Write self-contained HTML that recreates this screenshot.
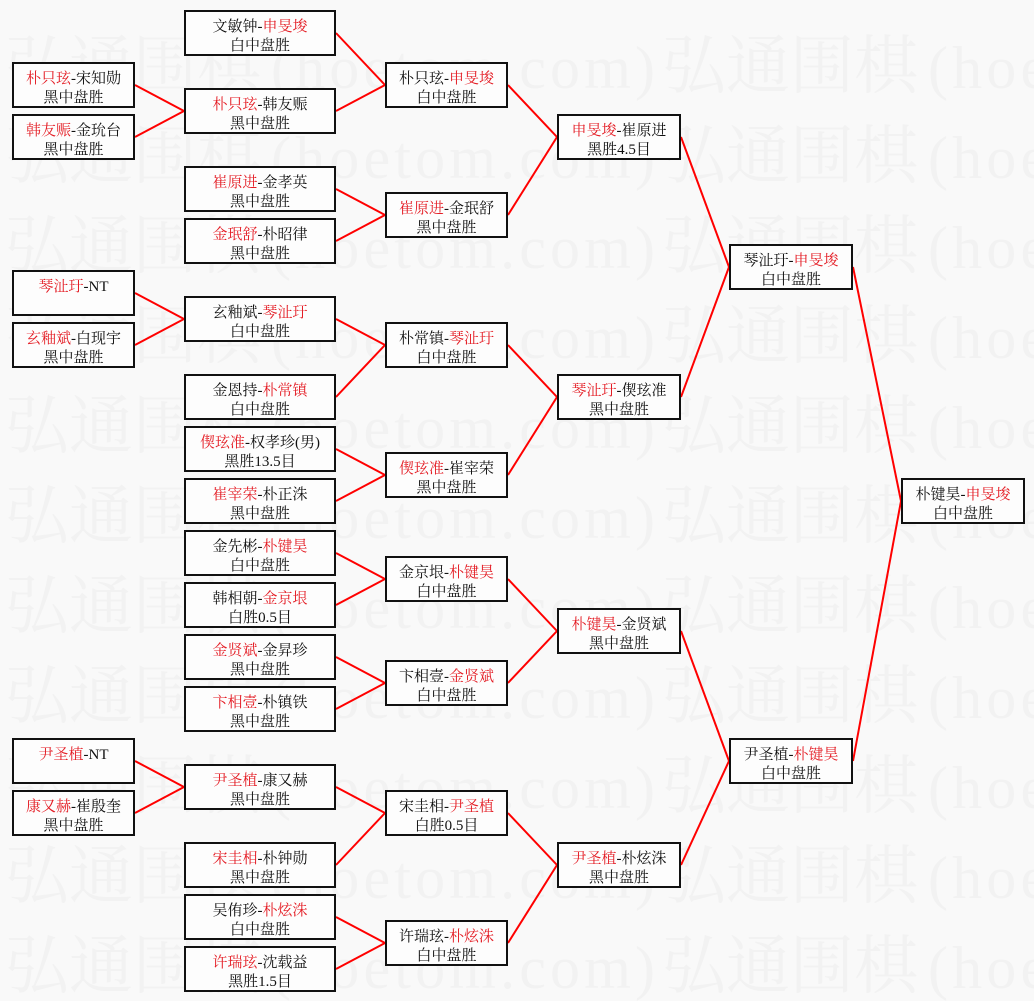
<!DOCTYPE html>
<html>
<head>
<meta charset="utf-8">
<style>
html,body{margin:0;padding:0;background:#f9f9f9;}
svg{display:block;}
.wm{font-family:"Liberation Serif","Noto Serif CJK SC",serif;font-size:64px;fill:#f2f2f2;}
.wl{font-family:"Liberation Serif","Noto Serif CJK SC",serif;font-size:60px;fill:#f2f2f2;}
.b{fill:#fdfdfd;stroke:#111;stroke-width:2;}
.t{font-family:"Liberation Serif","Noto Serif CJK SC",serif;font-size:15px;fill:#111;text-anchor:middle;}
.r{fill:#e41c24;}
.l{stroke:#f00;stroke-width:2;fill:none;}
</style>
</head>
<body>
<svg width="1034" height="1001" viewBox="0 0 1034 1001" xmlns="http://www.w3.org/2000/svg">
<rect width="1034" height="1001" fill="#f9f9f9"/>
<!-- watermark -->
<g>
<text class="wm" x="5" y="88">弘通围棋</text><text class="wl" x="271" y="88" textLength="384" lengthAdjust="spacing">(hoetom.com)</text><text class="wm" x="662" y="88">弘通围棋</text><text class="wl" x="928" y="88" textLength="384" lengthAdjust="spacing">(hoetom.com)</text>
<text class="wm" x="5" y="178">弘通围棋</text><text class="wl" x="271" y="178" textLength="384" lengthAdjust="spacing">(hoetom.com)</text><text class="wm" x="662" y="178">弘通围棋</text><text class="wl" x="928" y="178" textLength="384" lengthAdjust="spacing">(hoetom.com)</text>
<text class="wm" x="5" y="268">弘通围棋</text><text class="wl" x="271" y="268" textLength="384" lengthAdjust="spacing">(hoetom.com)</text><text class="wm" x="662" y="268">弘通围棋</text><text class="wl" x="928" y="268" textLength="384" lengthAdjust="spacing">(hoetom.com)</text>
<text class="wm" x="5" y="358">弘通围棋</text><text class="wl" x="271" y="358" textLength="384" lengthAdjust="spacing">(hoetom.com)</text><text class="wm" x="662" y="358">弘通围棋</text><text class="wl" x="928" y="358" textLength="384" lengthAdjust="spacing">(hoetom.com)</text>
<text class="wm" x="5" y="448">弘通围棋</text><text class="wl" x="271" y="448" textLength="384" lengthAdjust="spacing">(hoetom.com)</text><text class="wm" x="662" y="448">弘通围棋</text><text class="wl" x="928" y="448" textLength="384" lengthAdjust="spacing">(hoetom.com)</text>
<text class="wm" x="5" y="538">弘通围棋</text><text class="wl" x="271" y="538" textLength="384" lengthAdjust="spacing">(hoetom.com)</text><text class="wm" x="662" y="538">弘通围棋</text><text class="wl" x="928" y="538" textLength="384" lengthAdjust="spacing">(hoetom.com)</text>
<text class="wm" x="5" y="628">弘通围棋</text><text class="wl" x="271" y="628" textLength="384" lengthAdjust="spacing">(hoetom.com)</text><text class="wm" x="662" y="628">弘通围棋</text><text class="wl" x="928" y="628" textLength="384" lengthAdjust="spacing">(hoetom.com)</text>
<text class="wm" x="5" y="718">弘通围棋</text><text class="wl" x="271" y="718" textLength="384" lengthAdjust="spacing">(hoetom.com)</text><text class="wm" x="662" y="718">弘通围棋</text><text class="wl" x="928" y="718" textLength="384" lengthAdjust="spacing">(hoetom.com)</text>
<text class="wm" x="5" y="808">弘通围棋</text><text class="wl" x="271" y="808" textLength="384" lengthAdjust="spacing">(hoetom.com)</text><text class="wm" x="662" y="808">弘通围棋</text><text class="wl" x="928" y="808" textLength="384" lengthAdjust="spacing">(hoetom.com)</text>
<text class="wm" x="5" y="898">弘通围棋</text><text class="wl" x="271" y="898" textLength="384" lengthAdjust="spacing">(hoetom.com)</text><text class="wm" x="662" y="898">弘通围棋</text><text class="wl" x="928" y="898" textLength="384" lengthAdjust="spacing">(hoetom.com)</text>
<text class="wm" x="5" y="988">弘通围棋</text><text class="wl" x="271" y="988" textLength="384" lengthAdjust="spacing">(hoetom.com)</text><text class="wm" x="662" y="988">弘通围棋</text><text class="wl" x="928" y="988" textLength="384" lengthAdjust="spacing">(hoetom.com)</text>
</g>

<!-- connectors -->
<g class="l">
<line x1="135" y1="85" x2="184" y2="111"/><line x1="135" y1="137" x2="184" y2="111"/>
<line x1="135" y1="293" x2="184" y2="319"/><line x1="135" y1="345" x2="184" y2="319"/>
<line x1="135" y1="761" x2="184" y2="787"/><line x1="135" y1="813" x2="184" y2="787"/>

<line x1="336" y1="33" x2="385" y2="85"/><line x1="336" y1="111" x2="385" y2="85"/>
<line x1="336" y1="189" x2="385" y2="215"/><line x1="336" y1="241" x2="385" y2="215"/>
<line x1="336" y1="319" x2="385" y2="345"/><line x1="336" y1="397" x2="385" y2="345"/>
<line x1="336" y1="449" x2="385" y2="475"/><line x1="336" y1="501" x2="385" y2="475"/>
<line x1="336" y1="553" x2="385" y2="579"/><line x1="336" y1="605" x2="385" y2="579"/>
<line x1="336" y1="657" x2="385" y2="683"/><line x1="336" y1="709" x2="385" y2="683"/>
<line x1="336" y1="787" x2="385" y2="813"/><line x1="336" y1="865" x2="385" y2="813"/>
<line x1="336" y1="917" x2="385" y2="943"/><line x1="336" y1="969" x2="385" y2="943"/>

<line x1="508" y1="85" x2="557" y2="137"/><line x1="508" y1="215" x2="557" y2="137"/>
<line x1="508" y1="345" x2="557" y2="397"/><line x1="508" y1="475" x2="557" y2="397"/>
<line x1="508" y1="579" x2="557" y2="631"/><line x1="508" y1="683" x2="557" y2="631"/>
<line x1="508" y1="813" x2="557" y2="865"/><line x1="508" y1="943" x2="557" y2="865"/>

<line x1="681" y1="137" x2="729" y2="267"/><line x1="681" y1="397" x2="729" y2="267"/>
<line x1="681" y1="631" x2="729" y2="761"/><line x1="681" y1="865" x2="729" y2="761"/>

<line x1="853" y1="267" x2="901" y2="501"/><line x1="853" y1="761" x2="901" y2="501"/>
</g>

<!-- column 0 -->
<g>
<rect class="b" x="13" y="63" width="121" height="44"/>
<text class="t" x="73.5" y="83"><tspan class="r">朴只玹</tspan>-宋知勋</text><text class="t" x="73.5" y="102">黑中盘胜</text>
<rect class="b" x="13" y="115" width="121" height="44"/>
<text class="t" x="73.5" y="135"><tspan class="r">韩友赈</tspan>-金玧台</text><text class="t" x="73.5" y="154">黑中盘胜</text>
<rect class="b" x="13" y="271" width="121" height="44"/>
<text class="t" x="73.5" y="291"><tspan class="r">琴沚玗</tspan>-NT</text>
<rect class="b" x="13" y="323" width="121" height="44"/>
<text class="t" x="73.5" y="343"><tspan class="r">玄釉斌</tspan>-白现宇</text><text class="t" x="73.5" y="362">黑中盘胜</text>
<rect class="b" x="13" y="739" width="121" height="44"/>
<text class="t" x="73.5" y="759"><tspan class="r">尹圣植</tspan>-NT</text>
<rect class="b" x="13" y="791" width="121" height="44"/>
<text class="t" x="73.5" y="811"><tspan class="r">康又赫</tspan>-崔殷奎</text><text class="t" x="73.5" y="830">黑中盘胜</text>
</g>

<!-- column 1 -->
<g>
<rect class="b" x="185" y="11" width="150" height="44"/>
<text class="t" x="260" y="31">文敏钟-<tspan class="r">申旻埈</tspan></text><text class="t" x="260" y="50">白中盘胜</text>
<rect class="b" x="185" y="89" width="150" height="44"/>
<text class="t" x="260" y="109"><tspan class="r">朴只玹</tspan>-韩友赈</text><text class="t" x="260" y="128">黑中盘胜</text>
<rect class="b" x="185" y="167" width="150" height="44"/>
<text class="t" x="260" y="187"><tspan class="r">崔原进</tspan>-金孝英</text><text class="t" x="260" y="206">黑中盘胜</text>
<rect class="b" x="185" y="219" width="150" height="44"/>
<text class="t" x="260" y="239"><tspan class="r">金珉舒</tspan>-朴昭律</text><text class="t" x="260" y="258">黑中盘胜</text>
<rect class="b" x="185" y="297" width="150" height="44"/>
<text class="t" x="260" y="317">玄釉斌-<tspan class="r">琴沚玗</tspan></text><text class="t" x="260" y="336">白中盘胜</text>
<rect class="b" x="185" y="375" width="150" height="44"/>
<text class="t" x="260" y="395">金恩持-<tspan class="r">朴常镇</tspan></text><text class="t" x="260" y="414">白中盘胜</text>
<rect class="b" x="185" y="427" width="150" height="44"/>
<text class="t" x="260" y="447"><tspan class="r">偰玹准</tspan>-权孝珍(男)</text><text class="t" x="260" y="466">黑胜13.5目</text>
<rect class="b" x="185" y="479" width="150" height="44"/>
<text class="t" x="260" y="499"><tspan class="r">崔宰荣</tspan>-朴正洙</text><text class="t" x="260" y="518">黑中盘胜</text>
<rect class="b" x="185" y="531" width="150" height="44"/>
<text class="t" x="260" y="551">金先彬-<tspan class="r">朴键昊</tspan></text><text class="t" x="260" y="570">白中盘胜</text>
<rect class="b" x="185" y="583" width="150" height="44"/>
<text class="t" x="260" y="603">韩相朝-<tspan class="r">金京垠</tspan></text><text class="t" x="260" y="622">白胜0.5目</text>
<rect class="b" x="185" y="635" width="150" height="44"/>
<text class="t" x="260" y="655"><tspan class="r">金贤斌</tspan>-金昇珍</text><text class="t" x="260" y="674">黑中盘胜</text>
<rect class="b" x="185" y="687" width="150" height="44"/>
<text class="t" x="260" y="707"><tspan class="r">卞相壹</tspan>-朴镇铁</text><text class="t" x="260" y="726">黑中盘胜</text>
<rect class="b" x="185" y="765" width="150" height="44"/>
<text class="t" x="260" y="785"><tspan class="r">尹圣植</tspan>-康又赫</text><text class="t" x="260" y="804">黑中盘胜</text>
<rect class="b" x="185" y="843" width="150" height="44"/>
<text class="t" x="260" y="863"><tspan class="r">宋圭相</tspan>-朴钟勋</text><text class="t" x="260" y="882">黑中盘胜</text>
<rect class="b" x="185" y="895" width="150" height="44"/>
<text class="t" x="260" y="915">吴侑珍-<tspan class="r">朴炫洙</tspan></text><text class="t" x="260" y="934">白中盘胜</text>
<rect class="b" x="185" y="947" width="150" height="44"/>
<text class="t" x="260" y="967"><tspan class="r">许瑞玹</tspan>-沈载益</text><text class="t" x="260" y="986">黑胜1.5目</text>
</g>

<!-- column 2 -->
<g>
<rect class="b" x="386" y="63" width="121" height="44"/>
<text class="t" x="446.5" y="83">朴只玹-<tspan class="r">申旻埈</tspan></text><text class="t" x="446.5" y="102">白中盘胜</text>
<rect class="b" x="386" y="193" width="121" height="44"/>
<text class="t" x="446.5" y="213"><tspan class="r">崔原进</tspan>-金珉舒</text><text class="t" x="446.5" y="232">黑中盘胜</text>
<rect class="b" x="386" y="323" width="121" height="44"/>
<text class="t" x="446.5" y="343">朴常镇-<tspan class="r">琴沚玗</tspan></text><text class="t" x="446.5" y="362">白中盘胜</text>
<rect class="b" x="386" y="453" width="121" height="44"/>
<text class="t" x="446.5" y="473"><tspan class="r">偰玹准</tspan>-崔宰荣</text><text class="t" x="446.5" y="492">黑中盘胜</text>
<rect class="b" x="386" y="557" width="121" height="44"/>
<text class="t" x="446.5" y="577">金京垠-<tspan class="r">朴键昊</tspan></text><text class="t" x="446.5" y="596">白中盘胜</text>
<rect class="b" x="386" y="661" width="121" height="44"/>
<text class="t" x="446.5" y="681">卞相壹-<tspan class="r">金贤斌</tspan></text><text class="t" x="446.5" y="700">白中盘胜</text>
<rect class="b" x="386" y="791" width="121" height="44"/>
<text class="t" x="446.5" y="811">宋圭相-<tspan class="r">尹圣植</tspan></text><text class="t" x="446.5" y="830">白胜0.5目</text>
<rect class="b" x="386" y="921" width="121" height="44"/>
<text class="t" x="446.5" y="941">许瑞玹-<tspan class="r">朴炫洙</tspan></text><text class="t" x="446.5" y="960">白中盘胜</text>
</g>

<!-- column 3 -->
<g>
<rect class="b" x="558" y="115" width="122" height="44"/>
<text class="t" x="619" y="135"><tspan class="r">申旻埈</tspan>-崔原进</text><text class="t" x="619" y="154">黑胜4.5目</text>
<rect class="b" x="558" y="375" width="122" height="44"/>
<text class="t" x="619" y="395"><tspan class="r">琴沚玗</tspan>-偰玹准</text><text class="t" x="619" y="414">黑中盘胜</text>
<rect class="b" x="558" y="609" width="122" height="44"/>
<text class="t" x="619" y="629"><tspan class="r">朴键昊</tspan>-金贤斌</text><text class="t" x="619" y="648">黑中盘胜</text>
<rect class="b" x="558" y="843" width="122" height="44"/>
<text class="t" x="619" y="863"><tspan class="r">尹圣植</tspan>-朴炫洙</text><text class="t" x="619" y="882">黑中盘胜</text>
</g>

<!-- column 4 -->
<g>
<rect class="b" x="730" y="245" width="122" height="44"/>
<text class="t" x="791" y="265">琴沚玗-<tspan class="r">申旻埈</tspan></text><text class="t" x="791" y="284">白中盘胜</text>
<rect class="b" x="730" y="739" width="122" height="44"/>
<text class="t" x="791" y="759">尹圣植-<tspan class="r">朴键昊</tspan></text><text class="t" x="791" y="778">白中盘胜</text>
</g>

<!-- column 5 -->
<g>
<rect class="b" x="902" y="479" width="122" height="44"/>
<text class="t" x="963" y="499">朴键昊-<tspan class="r">申旻埈</tspan></text><text class="t" x="963" y="518">白中盘胜</text>
</g>
</svg>
</body>
</html>
